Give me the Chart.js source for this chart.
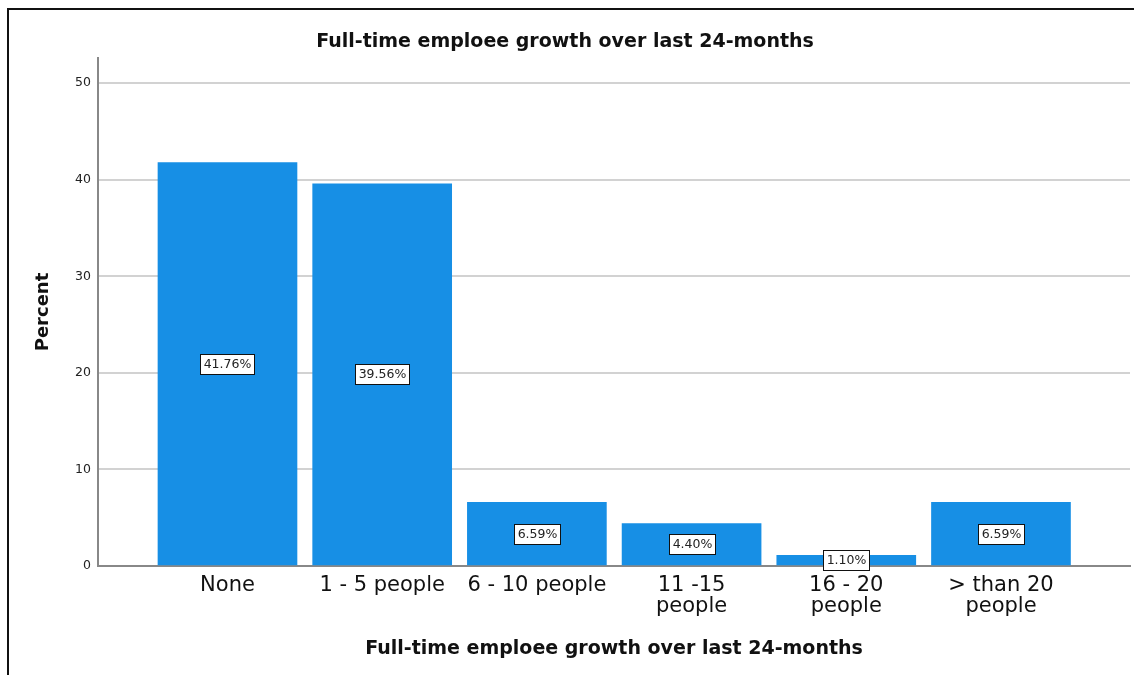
<!DOCTYPE html>
<html>
<head>
<meta charset="utf-8">
<script src="https://cdn.jsdelivr.net/npm/chart.js@4"></script>
<style>
  html, body { margin: 0; padding: 0; background: #fff; }
  #wrap { position: relative; width: 1134px; height: 675px; overflow: hidden; }
  #frame { position: absolute; left: 7px; top: 8px; right: -10px; bottom: -10px; border-left: 2px solid #111; border-top: 2px solid #111; pointer-events: none; }
  canvas { position: absolute; left: 0; top: 0; }
</style>
</head>
<body>
<div id="wrap">
  <canvas id="growthChart" width="1134" height="675"></canvas>
  <div id="frame"></div>
</div>
<script>
const categories = [
  'None',
  '1 - 5 people',
  '6 - 10 people',
  ['11 -15', 'people'],
  ['16 - 20', 'people'],
  ['> than 20', 'people']
];
const percentValues = [41.76, 39.56, 6.59, 4.40, 1.10, 6.59];
const yTicks = [0, 10, 20, 30, 40, 50];
const chartTitle = 'Full-time emploee growth over last 24-months';

const FONT = "'DejaVu Sans', 'Liberation Sans', sans-serif";

// boxed percentage label in the middle of every bar
const barLabels = {
  id: 'barLabels',
  afterDatasetsDraw(chart) {
    const { ctx } = chart;
    const meta = chart.getDatasetMeta(0);
    ctx.save();
    ctx.font = '12.5px ' + FONT;
    ctx.textAlign = 'center';
    ctx.textBaseline = 'middle';
    meta.data.forEach((bar, i) => {
      const text = percentValues[i].toFixed(2) + '%';
      const w = Math.round(ctx.measureText(text).width + 6);
      const h = 20;
      const cx = Math.round(bar.x);
      const cy = Math.round((bar.y + bar.base) / 2);
      const left = Math.round(cx - w / 2);
      ctx.fillStyle = '#fff';
      ctx.fillRect(left, cy - h / 2, w, h);
      ctx.strokeStyle = '#111';
      ctx.lineWidth = 1;
      ctx.strokeRect(left + 0.5, cy - h / 2 + 0.5, w, h);
      ctx.fillStyle = '#222';
      ctx.fillText(text, cx + 0.5, cy + 1);
    });
    ctx.restore();
  }
};

new Chart(document.getElementById('growthChart'), {
  type: 'bar',
  data: {
    datasets: [{
      data: percentValues.map((v, i) => ({ x: i, y: v })),
      backgroundColor: '#178fe5',
      borderWidth: 0,
      barThickness: 139
    }]
  },
  options: {
    responsive: false,
    animation: false,
    layout: { padding: { top: 0, right: 4, bottom: 0, left: 0 } },
    plugins: {
      legend: { display: false },
      tooltip: { enabled: false },
      title: {
        display: true,
        text: chartTitle,
        color: '#111',
        font: { family: FONT, size: 19, weight: 'bold' },
        padding: { top: 30.6, bottom: 4.6 }
      }
    },
    scales: {
      x: {
        type: 'linear',
        offset: false,
        min: -0.837,
        max: 5.834,
        afterBuildTicks(scale) {
          scale.ticks = categories.map((_, i) => ({ value: i }));
        },
        afterFit(scale) { scale.height = 109; },
        grid: { display: false, drawTicks: false, offset: false },
        border: { color: '#888', width: 2 },
        ticks: {
          autoSkip: false,
          maxRotation: 0,
          padding: 9.5,
          color: '#111',
          font: { family: FONT, size: 21, lineHeight: 1.0 },
          callback: (v) => categories[v]
        },
        title: {
          display: true,
          text: chartTitle,
          color: '#111',
          font: { family: FONT, size: 19, weight: 'bold' },
          padding: { top: 0, bottom: 15 }
        }
      },
      y: {
        min: 0,
        max: 52.6,
        afterBuildTicks(scale) {
          scale.ticks = yTicks.map(v => ({ value: v }));
        },
        afterFit(scale) { scale.width = 98; },
        grid: { color: '#d2d2d2', lineWidth: 2, drawTicks: false },
        border: { color: '#888', width: 2 },
        ticks: {
          padding: 7,
          color: '#222',
          font: { family: FONT, size: 12.5 }
        },
        title: {
          display: true,
          text: 'Percent',
          color: '#111',
          font: { family: FONT, size: 18, weight: 'bold' },
          padding: { top: 33, bottom: 0 }
        }
      }
    }
  },
  plugins: [barLabels]
});
</script>
</body>
</html>
